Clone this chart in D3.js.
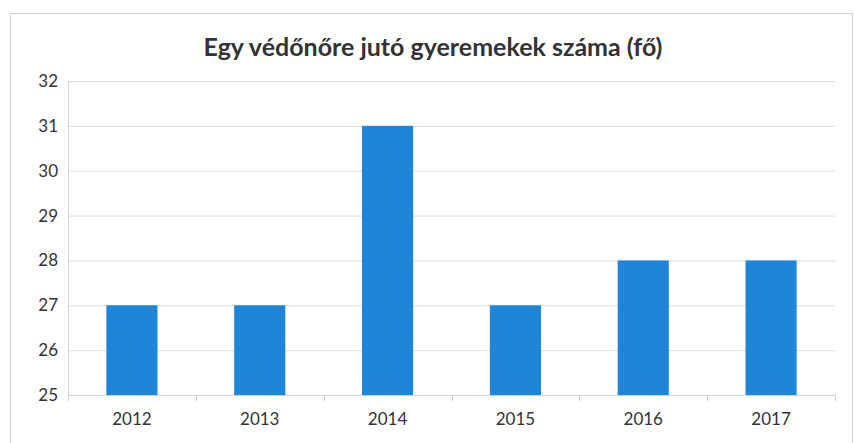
<!DOCTYPE html>
<html><head><meta charset="utf-8">
<script src="https://cdn.jsdelivr.net/npm/d3@7"></script>
<style>body{margin:0;background:#fff}</style>
</head><body>
<svg id="c" width="854" height="443"></svg>
<script>
const title = "Egy védőnőre jutó gyeremekek száma (fő)";
const categories = ["2012","2013","2014","2015","2016","2017"];
const values = [27, 27, 31, 27, 28, 28];
const yTicks = [25,26,27,28,29,30,31,32];

const svg = d3.select("#c");
const m = {left: 68, right: 835, top: 81, bottom: 395};

svg.append("rect").attr("x", 10.5).attr("y", 13.5).attr("width", 842).attr("height", 430)
  .attr("fill", "#fff").attr("stroke", "#d0d0d0");

const x = d3.scaleBand().domain(categories).range([m.left, m.right]).paddingInner(0.6).paddingOuter(0.3);
const y = d3.scaleLinear().domain([25, 32]).range([m.bottom, m.top]);

svg.append("g").selectAll("line").data(yTicks).join("line")
  .attr("x1", m.left).attr("x2", m.right)
  .attr("y1", d => y(d) + 0.5).attr("y2", d => y(d) + 0.5)
  .attr("stroke", "#dcdce4").attr("stroke-width", 1);

svg.append("line").attr("x1", m.left + 0.5).attr("x2", m.left + 0.5)
  .attr("y1", m.top).attr("y2", m.bottom).attr("stroke", "#d4d4dc");

svg.append("g").selectAll("rect").data(values).join("rect")
  .attr("x", (d, i) => x(categories[i]))
  .attr("width", x.bandwidth())
  .attr("y", d => y(d))
  .attr("height", d => y(25) - y(d))
  .attr("fill", "#1f85d9");

const font = "Lato, 'Open Sans', sans-serif";
const yAxis = d3.axisLeft(y).tickValues(yTicks).tickSize(0).tickPadding(10).tickFormat(d3.format("d"));
const gy = svg.append("g").attr("transform", `translate(${m.left},0)`).call(yAxis);
gy.select(".domain").remove();
gy.selectAll("text").attr("font-family", font).attr("font-size", 17).attr("fill", "#333");

const xAxis = d3.axisBottom(x).tickSize(0).tickPadding(18);
const gx = svg.append("g").attr("transform", `translate(0,${m.bottom})`).call(xAxis);
gx.select(".domain").attr("stroke", "#cfcfd8");
gx.selectAll("text").attr("font-family", font).attr("font-size", 17).attr("fill", "#333");
const seps = d3.range(categories.length + 1).map(i => m.left + i * (m.right - m.left) / categories.length);
gx.append("g").selectAll("line").data(seps).join("line")
  .attr("x1", d => Math.round(d) + 0.5).attr("x2", d => Math.round(d) + 0.5)
  .attr("y1", 0).attr("y2", 6).attr("stroke", "#cfcfd8");

svg.append("text").attr("x", 433).attr("y", 56).attr("text-anchor", "middle")
  .attr("font-family", font).attr("font-weight", "bold")
  .attr("font-size", 25).attr("fill", "#333").text(title);
</script>
</body></html>
